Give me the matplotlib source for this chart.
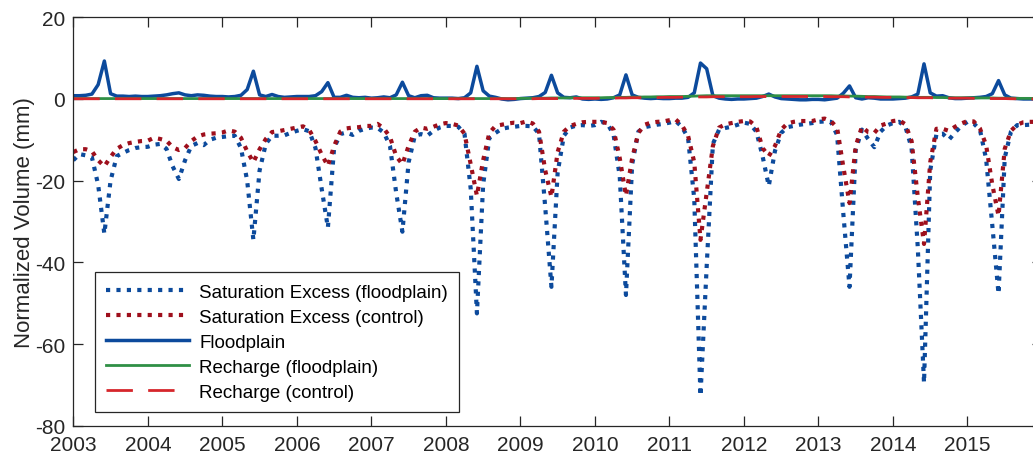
import numpy as np
import matplotlib
matplotlib.use("Agg")
import matplotlib.pyplot as plt

plt.rcParams['font.family'] = ['Liberation Sans', 'DejaVu Sans']
plt.rcParams['axes.unicode_minus'] = False

start_year = 2003
years = list(range(2003, 2016))
tick_labels = [str(y) for y in years]

# Monthly values (Jan..Dec) per year, 2003-2015
sat_fp = [
    -15.0, -13.5, -13.8, -14.3, -21.0, -33.0, -20.0, -14.0, -13.2, -12.5, -12.0, -11.8,  # 2003
    -11.7, -11.2, -11.0, -12.2, -16.5, -19.6, -15.0, -11.5, -10.8, -11.3, -10.0, -9.5,   # 2004
    -9.3, -9.1, -9.0, -12.0, -20.0, -34.5, -17.5, -11.0, -9.0, -9.0, -8.9, -8.3,         # 2005
    -7.8, -7.4, -7.9, -12.0, -22.0, -31.5, -12.0, -8.6, -8.2, -8.8, -7.8, -7.3,          # 2006
    -7.0, -7.1, -8.2, -11.5, -23.0, -32.5, -15.5, -9.0, -8.6, -9.0, -7.8, -7.0,          # 2007
    -6.6, -6.6, -6.8, -8.5, -22.0, -52.5, -21.0, -9.5, -8.3, -7.3, -7.0, -6.8,           # 2008
    -6.6, -6.6, -6.7, -8.5, -26.5, -46.0, -18.0, -9.0, -7.0, -6.5, -6.4, -6.6,           # 2009
    -6.4, -5.6, -6.0, -8.7, -19.0, -48.0, -16.0, -8.0, -6.9, -6.6, -6.3, -6.1,           # 2010
    -5.8, -5.4, -6.8, -9.5, -24.5, -72.7, -41.0, -11.0, -7.5, -7.1, -6.8, -6.3,          # 2011
    -5.8, -6.1, -8.0, -14.0, -21.3, -12.7, -8.3, -6.9, -6.6, -6.3, -6.1, -5.9,           # 2012
    -5.6, -5.5, -5.6, -8.8, -28.0, -46.0, -12.5, -7.5, -9.8, -11.8, -8.0, -6.5,          # 2013
    -5.9, -5.6, -6.8, -12.0, -36.5, -69.5, -17.5, -8.6, -8.5, -10.0, -8.2, -6.6,         # 2014
    -5.6, -6.0, -7.5, -14.7, -31.0, -47.7, -14.4, -8.0, -6.4, -6.4, -6.3, -6.2,          # 2015
]

sat_ctrl = [
    -13.0, -12.3, -12.3, -12.8, -15.0, -16.5, -14.2, -12.2, -11.3, -10.8, -10.5, -10.3,  # 2003
    -10.2, -9.5, -9.8, -10.2, -11.8, -12.5, -12.0, -10.3, -9.2, -8.7, -8.5, -8.4,        # 2004
    -8.2, -7.7, -8.0, -9.5, -12.8, -15.5, -12.3, -9.8, -8.1, -7.9, -7.6, -7.3,           # 2005
    -7.0, -6.7, -7.6, -10.3, -13.6, -16.4, -11.5, -8.0, -7.2, -7.0, -6.9, -6.6,          # 2006
    -6.6, -6.1, -7.2, -9.3, -14.0, -16.0, -11.5, -8.0, -7.0, -7.3, -6.8, -6.2,           # 2007
    -5.9, -6.1, -6.5, -8.5, -16.0, -23.7, -15.0, -8.3, -6.6, -6.3, -6.0, -5.8,           # 2008
    -5.9, -5.5, -6.0, -8.0, -17.5, -24.0, -13.0, -8.0, -6.6, -6.1, -5.7, -5.6,           # 2009
    -5.6, -5.6, -5.9, -7.5, -14.5, -23.7, -14.5, -8.3, -6.3, -5.8, -5.6, -5.5,           # 2010
    -5.2, -5.0, -6.4, -9.0, -15.5, -34.5, -23.0, -11.5, -7.0, -6.2, -5.9, -5.6,          # 2011
    -5.4, -5.5, -6.8, -12.0, -14.0, -11.5, -7.5, -6.0, -5.6, -5.4, -5.4, -5.4,           # 2012
    -5.0, -4.8, -5.4, -7.0, -16.6, -25.5, -11.5, -6.8, -8.1, -8.3, -6.5, -6.0,           # 2013
    -5.4, -5.2, -6.2, -10.3, -24.0, -35.5, -15.5, -7.3, -7.3, -7.8, -6.8, -6.0,          # 2014
    -5.4, -5.5, -7.2, -11.3, -21.0, -28.6, -12.2, -7.8, -6.3, -5.7, -5.6, -5.6,          # 2015
]

floodplain = [
    0.8, 0.8, 0.9, 1.2, 3.5, 9.3, 1.3, 0.7, 0.7, 0.6, 0.7, 0.6,      # 2003
    0.6, 0.7, 0.8, 1.0, 1.3, 1.5, 1.0, 0.8, 1.0, 0.9, 0.7, 0.6,      # 2004
    0.6, 0.5, 0.6, 0.9, 2.3, 6.8, 1.0, 0.6, 1.1, 0.6, 0.4, 0.5,      # 2005
    0.6, 0.6, 0.6, 0.8, 1.8, 4.0, 0.4, 0.4, 0.9, 0.4, 0.3, 0.4,      # 2006
    0.2, 0.3, 0.5, 0.3, 1.0, 4.1, 0.8, 0.3, 0.8, 0.9, 0.3, 0.2,      # 2007
    0.2, 0.2, 0.1, 0.3, 1.5, 8.0, 2.0, 0.7, 0.4, 0.0, -0.2, -0.1,    # 2008
    0.1, 0.2, 0.3, 0.6, 1.6, 5.8, 1.5, 0.4, 0.3, 0.5, 0.0, -0.1,     # 2009
    0.0, -0.1, 0.0, 0.3, 1.0, 5.9, 1.0, 0.4, 0.2, 0.1, 0.2, 0.1,     # 2010
    0.1, 0.2, 0.2, 0.4, 1.5, 8.8, 7.4, 0.8, 0.2, 0.0, -0.1, 0.0,     # 2011
    0.0, 0.1, 0.2, 0.6, 1.2, 0.5, 0.1, 0.0, -0.1, -0.2, -0.2, -0.1,  # 2012
    -0.1, -0.2, 0.0, 0.2, 1.4, 3.2, 0.3, 0.0, 0.3, 0.2, 0.0, 0.0,    # 2013
    0.0, 0.1, 0.2, 0.5, 1.2, 8.6, 1.5, 0.7, 0.8, 0.3, 0.1, 0.1,      # 2014
    0.2, 0.3, 0.4, 0.6, 1.3, 4.5, 1.0, 0.2, 0.1, 0.0, 0.0, 0.0,      # 2015
]

rech_fp = [
    0.1, 0.1, 0.1, 0.1, 0.1, 0.1, 0.1, 0.1, 0.1, 0.1, 0.1, 0.1,          # 2003
    0.1, 0.1, 0.1, 0.1, 0.1, 0.1, 0.1, 0.1, 0.1, 0.1, 0.1, 0.1,          # 2004
    0.1, 0.1, 0.1, 0.1, 0.1, 0.1, 0.1, 0.1, 0.1, 0.1, 0.1, 0.1,          # 2005
    0.1, 0.1, 0.1, 0.1, 0.1, 0.1, 0.1, 0.1, 0.1, 0.1, 0.1, 0.1,          # 2006
    0.1, 0.1, 0.1, 0.1, 0.1, 0.1, 0.1, 0.1, 0.1, 0.1, 0.1, 0.1,          # 2007
    0.1, 0.1, 0.1, 0.1, 0.1, 0.1, 0.1, 0.1, 0.1, 0.1, 0.1, 0.1,          # 2008
    0.15, 0.15, 0.2, 0.2, 0.2, 0.25, 0.25, 0.25, 0.3, 0.3, 0.3, 0.3,     # 2009
    0.3, 0.3, 0.35, 0.35, 0.4, 0.4, 0.45, 0.45, 0.5, 0.5, 0.55, 0.55,    # 2010
    0.6, 0.6, 0.6, 0.65, 0.7, 0.75, 0.8, 0.8, 0.8, 0.8, 0.8, 0.8,        # 2011
    0.8, 0.8, 0.8, 0.8, 0.8, 0.8, 0.8, 0.8, 0.8, 0.8, 0.8, 0.8,          # 2012
    0.8, 0.8, 0.8, 0.75, 0.75, 0.7, 0.7, 0.65, 0.6, 0.6, 0.55, 0.5,      # 2013
    0.5, 0.5, 0.45, 0.45, 0.4, 0.4, 0.4, 0.35, 0.35, 0.3, 0.3, 0.3,      # 2014
    0.3, 0.3, 0.25, 0.25, 0.25, 0.2, 0.2, 0.2, 0.15, 0.15, 0.15, 0.1,    # 2015
]

rech_ctrl = [
    0.05, 0.05, 0.05, 0.05, 0.05, 0.05, 0.05, 0.05, 0.05, 0.05, 0.05, 0.05,  # 2003
    0.05, 0.05, 0.05, 0.05, 0.05, 0.05, 0.05, 0.05, 0.05, 0.05, 0.05, 0.05,  # 2004
    0.05, 0.05, 0.05, 0.05, 0.05, 0.05, 0.05, 0.05, 0.05, 0.05, 0.05, 0.05,  # 2005
    0.05, 0.05, 0.05, 0.05, 0.05, 0.05, 0.05, 0.05, 0.05, 0.05, 0.05, 0.05,  # 2006
    0.05, 0.05, 0.05, 0.05, 0.05, 0.05, 0.05, 0.05, 0.05, 0.05, 0.05, 0.05,  # 2007
    0.05, 0.05, 0.05, 0.05, 0.05, 0.05, 0.05, 0.05, 0.05, 0.05, 0.05, 0.05,  # 2008
    0.05, 0.05, 0.05, 0.1, 0.1, 0.1, 0.1, 0.1, 0.15, 0.15, 0.15, 0.15,       # 2009
    0.15, 0.2, 0.2, 0.2, 0.25, 0.25, 0.3, 0.3, 0.3, 0.35, 0.35, 0.4,         # 2010
    0.4, 0.4, 0.45, 0.45, 0.5, 0.5, 0.5, 0.55, 0.55, 0.55, 0.55, 0.55,       # 2011
    0.55, 0.55, 0.6, 0.6, 0.6, 0.6, 0.6, 0.6, 0.6, 0.6, 0.6, 0.6,            # 2012
    0.6, 0.6, 0.55, 0.55, 0.55, 0.5, 0.5, 0.5, 0.45, 0.45, 0.4, 0.4,         # 2013
    0.4, 0.35, 0.35, 0.35, 0.3, 0.3, 0.3, 0.25, 0.25, 0.2, 0.2, 0.2,         # 2014
    0.2, 0.15, 0.15, 0.15, 0.1, 0.1, 0.1, 0.05, 0.05, 0.05, 0.0, 0.0,        # 2015
]

labels = ["Saturation Excess (floodplain)", "Saturation Excess (control)",
          "Floodplain", "Recharge (floodplain)", "Recharge (control)"]

t = start_year + np.arange(len(sat_fp)) / 12.0

W, H = 1033, 460
fig = plt.figure(figsize=(W / 100, H / 100), dpi=100)
left_px, right_px, bot_px, top_px = 73.3, 1042.0, 426.7, 18.3
ax = fig.add_axes([left_px / W, 1 - bot_px / H, (right_px - left_px) / W, (bot_px - top_px) / H])

blue = '#0c4a9c'
dred = '#9e0f1c'
green = '#2f8f45'
red = '#d6262b'

ax.plot(t, sat_fp, color=blue, lw=3.0, linestyle=(0, (1.0, 1.5)), dash_capstyle='butt', label=labels[0])
ax.plot(t, sat_ctrl, color=dred, lw=3.0, linestyle=(0, (1.0, 1.5)), dash_capstyle='butt', label=labels[1])
ax.plot(t, floodplain, color=blue, lw=2.5, label=labels[2])
ax.plot(t, rech_fp, color=green, lw=2.0, label=labels[3])
ax.plot(t, rech_ctrl, color=red, lw=2.0, linestyle=(0, (9.5, 5.5)), label=labels[4])

ax.set_xlim(2003, 2016)
ax.set_ylim(-80, 20)
ax.set_xticks(years)
ax.set_xticklabels(tick_labels)
ax.set_yticks([-80, -60, -40, -20, 0, 20])

spine_c = '#262626'
for s in ax.spines.values():
    s.set_color(spine_c)
    s.set_linewidth(0.9)
ax.tick_params(direction='in', length=7, width=0.9, colors=spine_c, labelsize=15,
               top=True, right=True)
ax.tick_params(axis='x', pad=6.5)
ax.tick_params(axis='y', pad=6)
ax.set_ylabel("Normalized Volume (mm)", fontsize=16, color=spine_c, labelpad=0)

leg = ax.legend(loc='lower left', bbox_to_anchor=(0.0224, 0.0335), fontsize=13.5,
                frameon=True, fancybox=False, edgecolor=spine_c, framealpha=1,
                handlelength=4.4, handletextpad=0.55, labelspacing=0.42,
                borderpad=0.6, borderaxespad=0)
leg.get_frame().set_linewidth(0.9)

fig.savefig("out.png", dpi=100)
